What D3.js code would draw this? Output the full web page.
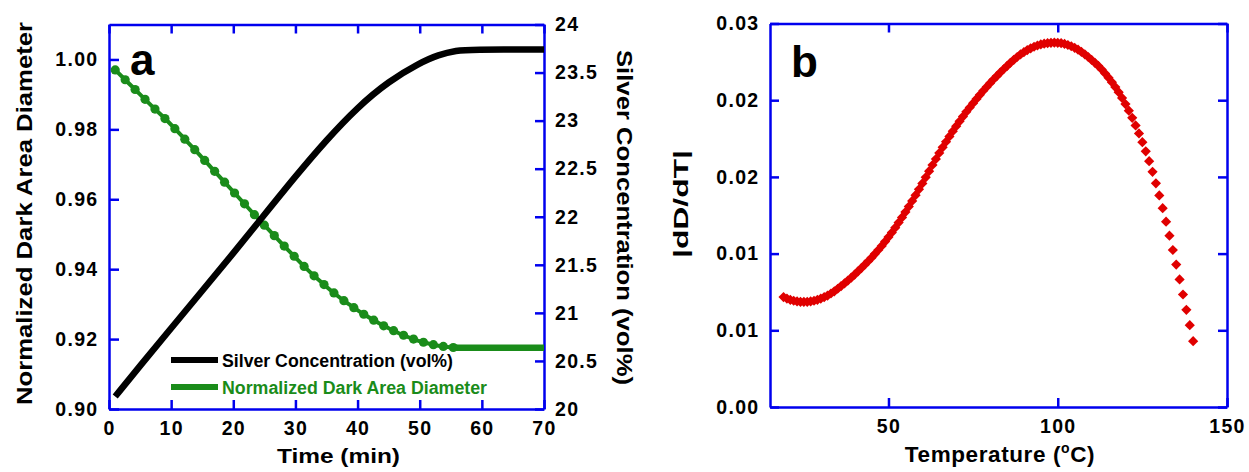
<!DOCTYPE html>
<html>
<head>
<meta charset="utf-8">
<script src="https://cdn.jsdelivr.net/npm/d3@7"></script>
<style>
  body { margin: 0; background: #fff; }
  svg { display: block; font-family: "Liberation Sans", Arial, sans-serif; }
</style>
</head>
<body>
<svg id="svg"></svg>
<script>
// data

// panel a: silver concentration (right axis)
const concTime = [1, 5, 10, 15, 20, 25, 30, 35, 40, 45, 50, 53, 56, 58, 70];
const concValue = [20.13, 20.45, 20.84, 21.23, 21.62, 22.02, 22.42, 22.80, 23.14, 23.41, 23.60, 23.685, 23.73, 23.74, 23.74];

// panel a: normalized dark area diameter (left axis)
const diamTime = [1, 2.6, 4.2, 5.8, 7.4, 9, 10.6, 12.2, 13.8, 15.4, 17, 18.6, 20.2, 21.8, 23.4, 25, 26.6, 28.2, 29.8, 31.4, 33, 34.6, 36.2, 37.8, 39.4, 41, 42.6, 44.2, 45.8, 47.4, 49, 50.6, 52.2, 53.8, 55.4];
const diamValue = [0.9970, 0.9942, 0.9914, 0.9886, 0.9858, 0.9831, 0.9802, 0.9772, 0.9742, 0.9711, 0.9680, 0.9649, 0.9618, 0.9587, 0.9556, 0.9526, 0.9496, 0.9466, 0.9437, 0.9408, 0.9381, 0.9356, 0.9332, 0.9310, 0.9290, 0.9271, 0.9254, 0.9238, 0.9224, 0.9211, 0.9200, 0.9191, 0.9184, 0.9179, 0.9176];
const plateauTime = [55.4, 70];
const plateauValue = [0.9175, 0.9175];

// panel b: |dD/dT| vs temperature
const temp = [19, 20, 21, 22, 23, 24, 25, 26, 27, 28, 29, 30, 31, 32, 33, 34, 35, 36, 37, 38, 39, 40, 41, 42, 43, 44, 45, 46, 47, 48, 49, 50, 51, 52, 53, 54, 55, 56, 57, 58, 59, 60, 61, 62, 63, 64, 65, 66, 67, 68, 69, 70, 71, 72, 73, 74, 75, 76, 77, 78, 79, 80, 81, 82, 83, 84, 85, 86, 87, 88, 89, 90, 91, 92, 93, 94, 95, 96, 97, 98, 99, 100, 101, 102, 103, 104, 105, 106, 107, 108, 109, 110, 111, 112, 113, 114, 115, 116, 117, 118, 119, 120, 121, 122, 123, 124, 125, 126, 127, 128, 129, 130, 131, 132, 133, 134, 135, 136, 137, 138, 139, 140];
const rate = [0.00860, 0.00848, 0.00838, 0.00831, 0.00826, 0.00823, 0.00822, 0.00823, 0.00826, 0.00831, 0.00838, 0.00848, 0.00859, 0.00872, 0.00888, 0.00905, 0.00925, 0.00946, 0.00967, 0.00989, 0.01012, 0.01036, 0.01061, 0.01087, 0.01113, 0.01140, 0.01168, 0.01198, 0.01228, 0.01260, 0.01294, 0.01329, 0.01365, 0.01403, 0.01443, 0.01483, 0.01525, 0.01568, 0.01612, 0.01657, 0.01703, 0.01749, 0.01797, 0.01845, 0.01893, 0.01940, 0.01987, 0.02031, 0.02075, 0.02117, 0.02158, 0.02197, 0.02235, 0.02272, 0.02309, 0.02343, 0.02377, 0.02410, 0.02442, 0.02474, 0.02504, 0.02533, 0.02562, 0.02589, 0.02616, 0.02642, 0.02667, 0.02692, 0.02716, 0.02738, 0.02758, 0.02776, 0.02792, 0.02806, 0.02818, 0.02828, 0.02836, 0.02842, 0.02846, 0.02849, 0.02850, 0.02849, 0.02846, 0.02840, 0.02832, 0.02822, 0.02810, 0.02795, 0.02778, 0.02759, 0.02738, 0.02715, 0.02692, 0.02668, 0.02640, 0.02609, 0.02576, 0.02541, 0.02503, 0.02463, 0.02418, 0.02370, 0.02318, 0.02262, 0.02203, 0.02140, 0.02072, 0.02000, 0.01923, 0.01840, 0.01750, 0.01655, 0.01555, 0.01450, 0.01340, 0.01228, 0.01114, 0.00998, 0.00880, 0.00760, 0.00640, 0.00515];

// ticks
const timeTicks = [0, 10, 20, 30, 40, 50, 60, 70];
const timeTickLabels = ["0", "10", "20", "30", "40", "50", "60", "70"];
const diamTicks = [0.90, 0.92, 0.94, 0.96, 0.98, 1.00];
const diamTickLabels = ["0.90", "0.92", "0.94", "0.96", "0.98", "1.00"];
const concTicks = [20, 20.5, 21, 21.5, 22, 22.5, 23, 23.5, 24];
const concTickLabels = ["20", "20.5", "21", "21.5", "22", "22.5", "23", "23.5", "24"];
const tempTicks = [50, 100, 150];
const tempTickLabels = ["50", "100", "150"];
const rateTicks = [0, 0.006, 0.012, 0.018, 0.024, 0.03];
const rateTickLabels = ["0.00", "0.01", "0.01", "0.02", "0.02", "0.03"];

const blue = "#0000ee";
const green = "#1a8c1a";
const red = "#e00000";

const svg = d3.select("#svg").attr("width", 1249).attr("height", 472);

// scales
const xA = d3.scaleLinear().domain([0, 70]).range([109, 544]);
const yA = d3.scaleLinear().domain([0.90, 1.01]).range([409, 24.5]);
const yA2 = d3.scaleLinear().domain([20, 24]).range([409, 24.5]);

const xB = d3.scaleLinear().domain([15, 150]).range([770, 1227]);
const yB = d3.scaleLinear().domain([0, 0.03]).range([407, 23.5]);

function styleAxis(g) {
  g.attr("font-family", null).attr("font-size", null);
  g.select(".domain").attr("stroke", blue).attr("stroke-width", 2.5);
  g.selectAll(".tick line").attr("stroke", blue).attr("stroke-width", 2.5);
  g.selectAll(".tick text")
    .attr("fill", "#000")
    .attr("font-size", 19.5)
    .attr("font-weight", "bold")
    .attr("letter-spacing", 1.3);
}

function labelsFrom(ticks, labels) {
  return (d) => labels[ticks.indexOf(d)];
}

// panel a frame
svg.append("g")
  .attr("transform", `translate(0,${yA(0.90)})`)
  .call(d3.axisBottom(xA).tickValues(timeTicks).tickFormat(labelsFrom(timeTicks, timeTickLabels))
    .tickSizeInner(-9).tickSizeOuter(0).tickPadding(12.5))
  .call(styleAxis);

svg.append("g")
  .attr("transform", `translate(0,${yA(1.01)})`)
  .call(d3.axisTop(xA).tickValues(timeTicks).tickFormat("").tickSizeInner(-9).tickSizeOuter(0))
  .call(styleAxis);

svg.append("g")
  .attr("transform", `translate(${xA(0)},0)`)
  .call(d3.axisLeft(yA).tickValues(diamTicks).tickFormat(labelsFrom(diamTicks, diamTickLabels))
    .tickSizeInner(-10).tickSizeOuter(0).tickPadding(10.5))
  .call(styleAxis);

svg.append("g")
  .attr("transform", `translate(${xA(70)},0)`)
  .call(d3.axisRight(yA2).tickValues(concTicks).tickFormat(labelsFrom(concTicks, concTickLabels))
    .tickSizeInner(-9).tickSizeOuter(0).tickPadding(11))
  .call(styleAxis);

// panel b frame
svg.append("g")
  .attr("transform", `translate(0,${yB(0)})`)
  .call(d3.axisBottom(xB).tickValues(tempTicks).tickFormat(labelsFrom(tempTicks, tempTickLabels))
    .tickSizeInner(-9).tickSizeOuter(0).tickPadding(12.5))
  .call(styleAxis);

svg.append("g")
  .attr("transform", `translate(0,${yB(0.03)})`)
  .call(d3.axisTop(xB).tickValues(tempTicks).tickFormat("").tickSizeInner(-9).tickSizeOuter(0))
  .call(styleAxis);

svg.append("g")
  .attr("transform", `translate(${xB(15)},0)`)
  .call(d3.axisLeft(yB).tickValues(rateTicks).tickFormat(labelsFrom(rateTicks, rateTickLabels))
    .tickSizeInner(-9).tickSizeOuter(0).tickPadding(10.5))
  .call(styleAxis);

svg.append("g")
  .attr("transform", `translate(${xB(150)},0)`)
  .call(d3.axisRight(yB).tickValues(rateTicks).tickFormat("").tickSizeInner(-9).tickSizeOuter(0))
  .call(styleAxis);

// panel a data
const diamLine = d3.line().x((d) => xA(d[0])).y((d) => yA(d[1])).curve(d3.curveMonotoneX);
const concLine = d3.line().x((d) => xA(d[0])).y((d) => yA2(d[1])).curve(d3.curveBasis);

const diamData = diamTime.map((t, i) => [t, diamValue[i]]);

svg.append("path")
  .attr("d", diamLine(diamData))
  .attr("fill", "none")
  .attr("stroke", green)
  .attr("stroke-width", 4);

svg.append("path")
  .attr("d", diamLine(plateauTime.map((t, i) => [t, plateauValue[i]])))
  .attr("fill", "none")
  .attr("stroke", green)
  .attr("stroke-width", 6.5);

svg.append("g")
  .selectAll("circle")
  .data(diamData)
  .join("circle")
  .attr("cx", (d) => xA(d[0]))
  .attr("cy", (d) => yA(d[1]))
  .attr("r", 4.6)
  .attr("fill", green);

svg.append("path")
  .attr("d", concLine(concTime.map((t, i) => [t, concValue[i]])))
  .attr("fill", "none")
  .attr("stroke", "#000")
  .attr("stroke-width", 6.5);

// legend
svg.append("line")
  .attr("x1", 171).attr("x2", 218).attr("y1", 360).attr("y2", 360)
  .attr("stroke", "#000").attr("stroke-width", 6);
svg.append("line")
  .attr("x1", 171).attr("x2", 218).attr("y1", 387).attr("y2", 387)
  .attr("stroke", green).attr("stroke-width", 6);

svg.append("text")
  .attr("x", 222).attr("y", 366.5)
  .attr("font-size", 17.5).attr("font-weight", "bold")
  .attr("textLength", 231)
  .attr("lengthAdjust", "spacingAndGlyphs")
  .text("Silver Concentration (vol%)");

svg.append("text")
  .attr("x", 222).attr("y", 393.5)
  .attr("font-size", 17.5).attr("font-weight", "bold")
  .attr("fill", green)
  .attr("textLength", 265)
  .attr("lengthAdjust", "spacingAndGlyphs")
  .text("Normalized Dark Area Diameter");

// panel b data
const diamond = d3.symbol().type(d3.symbolSquare).size(52);

svg.append("g")
  .selectAll("path")
  .data(temp.map((t, i) => [t, rate[i]]))
  .join("path")
  .attr("d", diamond)
  .attr("transform", (d) => `translate(${xB(d[0])},${yB(d[1])}) rotate(45)`)
  .attr("fill", red);

// titles and panel letters
svg.append("text")
  .attr("x", 130).attr("y", 75)
  .attr("font-size", 44).attr("font-weight", "bold")
  .text("a");

svg.append("text")
  .attr("x", 791).attr("y", 76.5)
  .attr("font-size", 44).attr("font-weight", "bold")
  .text("b");

svg.append("text")
  .attr("x", 338.5).attr("y", 463)
  .attr("text-anchor", "middle")
  .attr("font-size", 21).attr("font-weight", "bold")
  .attr("textLength", 123).attr("lengthAdjust", "spacingAndGlyphs")
  .text("Time (min)");

const tempTitle = svg.append("text")
  .attr("x", 1000).attr("y", 462)
  .attr("text-anchor", "middle")
  .attr("font-size", 22.5).attr("font-weight", "bold")
  .attr("letter-spacing", 0.6);
tempTitle.append("tspan").text("Temperature (");
tempTitle.append("tspan").attr("font-size", 14).attr("dy", -9).text("o");
tempTitle.append("tspan").attr("dy", 9).text("C)");

svg.append("text")
  .attr("transform", "translate(31.5,213.5) rotate(-90)")
  .attr("text-anchor", "middle")
  .attr("font-size", 22).attr("font-weight", "bold")
  .attr("textLength", 383).attr("lengthAdjust", "spacingAndGlyphs")
  .text("Normalized Dark Area Diameter");

svg.append("text")
  .attr("transform", "translate(617,217.5) rotate(90)")
  .attr("text-anchor", "middle")
  .attr("font-size", 22).attr("font-weight", "bold")
  .attr("textLength", 335).attr("lengthAdjust", "spacingAndGlyphs")
  .text("Silver Concentration (vol%)");

svg.append("text")
  .attr("transform", "translate(688,204) rotate(-90)")
  .attr("text-anchor", "middle")
  .attr("font-size", 21).attr("font-weight", "bold")
  .attr("textLength", 108).attr("lengthAdjust", "spacingAndGlyphs")
  .text("|dD/dT|");
</script>
</body>
</html>
